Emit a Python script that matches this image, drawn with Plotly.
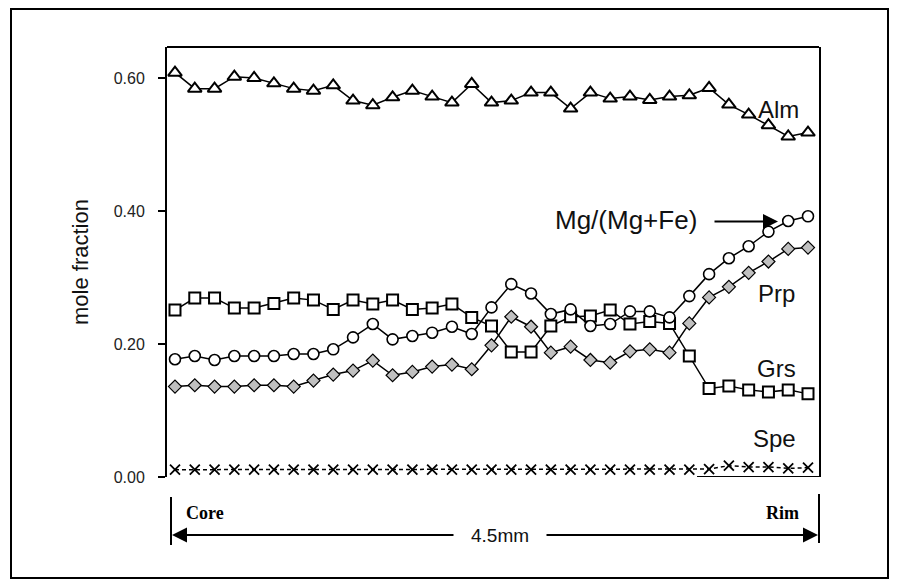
import plotly.graph_objects as go

# ---------------- data ----------------
point_no = list(range(1, 34))

alm = [0.608, 0.584, 0.584, 0.602, 0.600, 0.592, 0.584, 0.581, 0.589, 0.566,
       0.559, 0.571, 0.581, 0.572, 0.563, 0.591, 0.563, 0.566, 0.578, 0.578,
       0.554, 0.578, 0.569, 0.572, 0.567, 0.572, 0.574, 0.585, 0.560, 0.545,
       0.529, 0.512, 0.518]

mg_fe = [0.177, 0.182, 0.176, 0.182, 0.182, 0.182, 0.185, 0.185, 0.192, 0.210,
         0.230, 0.207, 0.212, 0.217, 0.226, 0.215, 0.255, 0.290, 0.276, 0.245,
         0.252, 0.227, 0.230, 0.249, 0.249, 0.240, 0.272, 0.305, 0.329, 0.347,
         0.369, 0.385, 0.392]

grs = [0.251, 0.269, 0.269, 0.254, 0.254, 0.261, 0.269, 0.266, 0.252, 0.266,
       0.260, 0.266, 0.252, 0.254, 0.260, 0.240, 0.227, 0.188, 0.188, 0.227,
       0.241, 0.242, 0.251, 0.230, 0.234, 0.231, 0.182, 0.133, 0.137, 0.131,
       0.128, 0.131, 0.125]

prp = [0.136, 0.138, 0.136, 0.136, 0.138, 0.138, 0.136, 0.145, 0.154, 0.160,
       0.175, 0.153, 0.158, 0.166, 0.169, 0.162, 0.198, 0.241, 0.226, 0.187,
       0.196, 0.176, 0.172, 0.189, 0.192, 0.187, 0.231, 0.270, 0.286, 0.307,
       0.324, 0.343, 0.345]

spe = [0.011, 0.011, 0.011, 0.011, 0.011, 0.011, 0.011, 0.011, 0.011, 0.011,
       0.011, 0.011, 0.011, 0.011, 0.011, 0.011, 0.011, 0.011, 0.011, 0.011,
       0.011, 0.011, 0.011, 0.011, 0.011, 0.011, 0.011, 0.012, 0.017, 0.015,
       0.015, 0.013, 0.014]

y_tick_vals = [0.0, 0.2, 0.4, 0.6]
y_tick_text = ["0.00", "0.20", "0.40", "0.60"]

x_range = [0.596, 33.556]
y_range = [0.0, 0.6466]
axis_segment_start = 27.39   # where the solid bottom line begins

# ---------------- layout helpers (pixel -> paper) ----------------
W, H = 901, 588
ML, MR, MT, MB = 167, 82, 47, 111
PW, PH = W - ML - MR, H - MT - MB


def px(xp):
    return (xp - ML) / PW


def py(yp):
    return (H - MB - yp) / PH


SANS = "Arial, 'Liberation Sans', Helvetica, sans-serif"
SERIF = "'Times New Roman', 'Liberation Serif', serif"

fig = go.Figure()

fig.add_trace(go.Scatter(
    x=point_no, y=spe, mode="lines+markers", name="Spe",
    line=dict(color="black", width=1.5, dash="4px,3px"),
    marker=dict(symbol="x-thin-open", size=10, color="black",
                line=dict(color="black", width=1.8)),
))
fig.add_trace(go.Scatter(
    x=point_no, y=prp, mode="lines+markers", name="Prp",
    line=dict(color="black", width=1.5),
    marker=dict(symbol="diamond", size=10, color="#c0c0c0",
                line=dict(color="black", width=1.2)),
))
fig.add_trace(go.Scatter(
    x=point_no, y=grs, mode="lines+markers", name="Grs",
    line=dict(color="black", width=1.5),
    marker=dict(symbol="square", size=11, color="white",
                line=dict(color="black", width=2)),
))
fig.add_trace(go.Scatter(
    x=point_no, y=mg_fe, mode="lines+markers", name="Mg/(Mg+Fe)",
    line=dict(color="black", width=1.5),
    marker=dict(symbol="circle", size=11, color="white",
                line=dict(color="black", width=1.6)),
))
fig.add_trace(go.Scatter(
    x=point_no, y=alm, mode="lines+markers", name="Alm",
    line=dict(color="black", width=1.5),
    marker=dict(symbol="triangle-up", size=12, color="white",
                line=dict(color="black", width=2)),
))

shapes = [
    # outer frame
    dict(type="rect", xref="paper", yref="paper",
         x0=px(11), x1=px(888), y0=py(578), y1=py(9),
         line=dict(color="black", width=2), layer="below"),
    # top edge of plot area
    dict(type="line", xref="paper", yref="paper", x0=0, x1=1, y0=1, y1=1,
         line=dict(color="black", width=2)),
    # partial bottom axis line
    dict(type="line", xref="x", yref="y", x0=axis_segment_start, x1=x_range[1],
         y0=0, y1=0, line=dict(color="black", width=2)),
    # scale bar end markers
    dict(type="line", xref="paper", yref="paper", x0=px(171), x1=px(171),
         y0=py(497), y1=py(545), line=dict(color="black", width=2)),
    dict(type="line", xref="paper", yref="paper", x0=px(819), x1=px(819),
         y0=py(494), y1=py(543), line=dict(color="black", width=2)),
]


def label(text, x, y, size, family=SANS, angle=0, color="#111"):
    return dict(text=text, x=px(x), y=py(y), xref="paper", yref="paper",
                xanchor="center", yanchor="middle", textangle=angle,
                showarrow=False, font=dict(family=family, size=size, color=color))


def arrow(x_tip, x_tail, y):
    return dict(text="", x=px(x_tip), y=py(y), xref="paper", yref="paper",
                ax=x_tail - x_tip, ay=0, showarrow=True, arrowhead=2,
                arrowsize=1.5, arrowwidth=2, arrowcolor="black", standoff=0)


annotations = [
    label("mole fraction", 80, 262, 22, angle=-90),
    label("Alm", 778, 109, 24),
    label("Mg/(Mg+Fe)", 626, 220, 26),
    arrow(778, 713, 221.5),
    label("Prp", 776, 293, 24),
    label("Grs", 776, 368, 24),
    label("Spe", 774, 438, 24),
    label("<b>Core</b>", 205, 513, 18, family=SERIF, color="black"),
    label("<b>Rim</b>", 782, 513, 18, family=SERIF, color="black"),
    label("4.5mm", 500, 535, 19),
    arrow(172, 455, 535),
    arrow(818, 545, 535),
]

fig.update_layout(
    width=W, height=H,
    margin=dict(l=ML, r=MR, t=MT, b=MB, pad=0),
    paper_bgcolor="white", plot_bgcolor="white",
    showlegend=False,
    shapes=shapes,
    annotations=annotations,
    xaxis=dict(range=x_range, showgrid=False, zeroline=False,
               showticklabels=False, showline=False, ticks=""),
    yaxis=dict(range=y_range, tickvals=y_tick_vals, ticktext=y_tick_text,
               ticks="outside", ticklen=7, tickwidth=2, tickcolor="black",
               showline=True, linewidth=2, linecolor="black", mirror=True,
               showgrid=False, zeroline=False, ticklabelstandoff=10,
               tickfont=dict(family=SANS, size=16, color="#222")),
)

fig.write_html("out.html")
